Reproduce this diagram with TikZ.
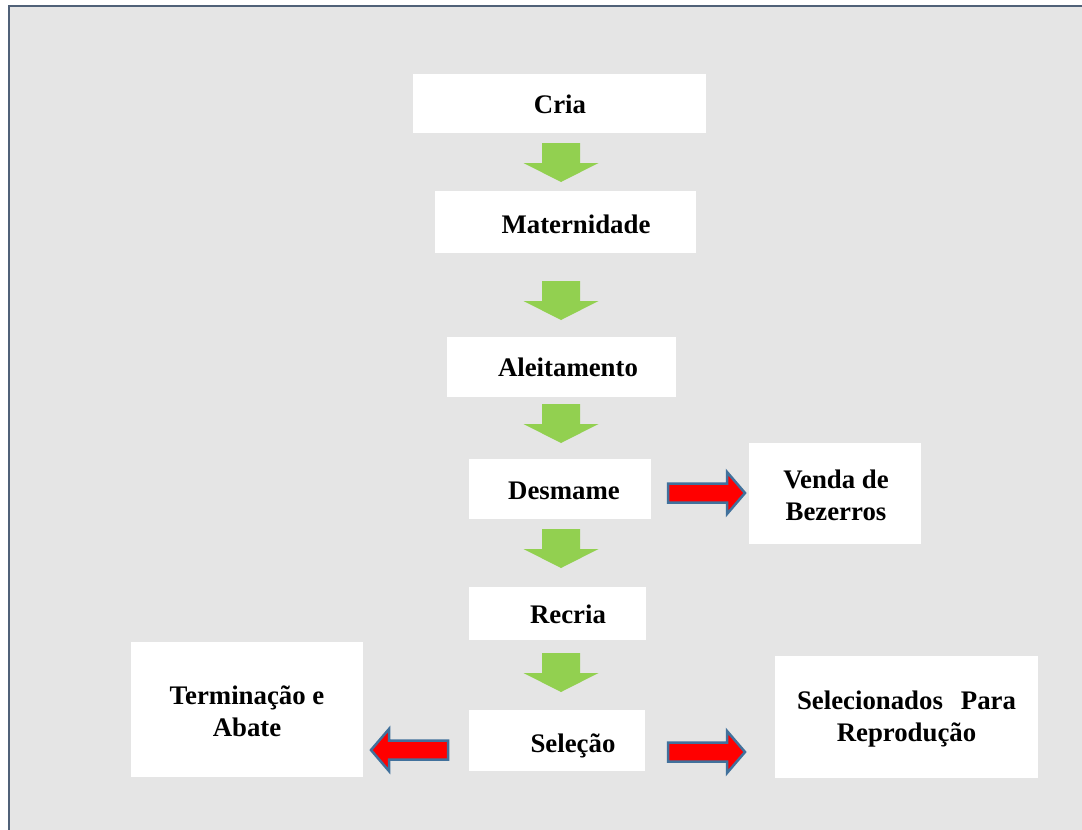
\documentclass[tikz,border=0pt]{standalone}
\usepackage{fontspec}
\setmainfont{Liberation Serif}
\definecolor{bgray}{HTML}{E5E5E5}
\definecolor{frameblue}{HTML}{506178}
\definecolor{arrgreen}{HTML}{92D050}
\definecolor{arredge}{HTML}{41719C}
\tikzset{
  box/.style={draw=none, fill=white, inner sep=0pt, outer sep=0pt},
  lbl/.style={font=\fontsize{26.8}{32}\selectfont\bfseries, inner sep=0pt, align=center},
  garrow/.pic={\fill[arrgreen] (-19,0)--(19,0)--(19,20)--(37.5,20)--(0,39)--(-37.5,20)--(-19,20)--cycle;},
  rarrow/.pic={\filldraw[fill=red, draw=arredge, line width=2.5pt, line join=miter] (0,-9.5)--(59,-9.5)--(59,-21)--(77,0)--(59,21)--(59,9.5)--(0,9.5)--cycle;}
}
\begin{document}
\begin{tikzpicture}[x=1pt, y=-1pt]
\useasboundingbox (0,0) rectangle (1082,830);
\fill[white] (0,0) rectangle (1082,830);
\filldraw[fill=bgray, draw=frameblue, line width=2.5pt] (9,6) rectangle (1090,840);
% boxes
\node[box, minimum width=293pt, minimum height=59pt] (cria) at (559.5,103.5) {};
\node[box, minimum width=261pt, minimum height=62pt] (mat) at (565.5,222) {};
\node[box, minimum width=229pt, minimum height=60pt] (ale) at (561.5,367) {};
\node[box, minimum width=182pt, minimum height=60pt] (des) at (560,489) {};
\node[box, minimum width=172pt, minimum height=101pt] (ven) at (835,493.5) {};
\node[box, minimum width=177pt, minimum height=53pt] (rec) at (557.5,613.5) {};
\node[box, minimum width=176pt, minimum height=61pt] (sel) at (557,740.5) {};
\node[box, minimum width=232pt, minimum height=135pt] (ter) at (247,709.5) {};
\node[box, minimum width=263pt, minimum height=122pt] (rep) at (906.5,717) {};
% labels
\node[lbl, anchor=base] (tcria) at (560,113) {Cria};
\node[lbl, anchor=base] (tmat) at (576,233) {Maternidade};
\node[lbl, anchor=base] (tale) at (568,376) {Aleitamento};
\node[lbl, anchor=base] (tdes) at (564,499) {Desmame};
\node[lbl, anchor=base] (trec) at (568,623) {Recria};
\node[lbl, anchor=base] (tsel) at (573,752) {Seleção};
\node[lbl] (tven) at (836,495) {Venda de\\Bezerros};
\node[lbl] (tter) at (247,711) {Terminação e\\Abate};
\node[lbl] (trep) at (906.5,719) {\hbox to 219pt{Selecionados\hfill Para}\\Reprodução};
% green arrows
\pic at (561,143) {garrow};
\pic at (561,281) {garrow};
\pic at (561,404) {garrow};
\pic at (561,529) {garrow};
\pic at (561,653) {garrow};
% red arrows
\pic at (668,493) {rarrow};
\pic at (668,752) {rarrow};
\pic[xscale=-1] at (448,750) {rarrow};
\end{tikzpicture}
\end{document}
